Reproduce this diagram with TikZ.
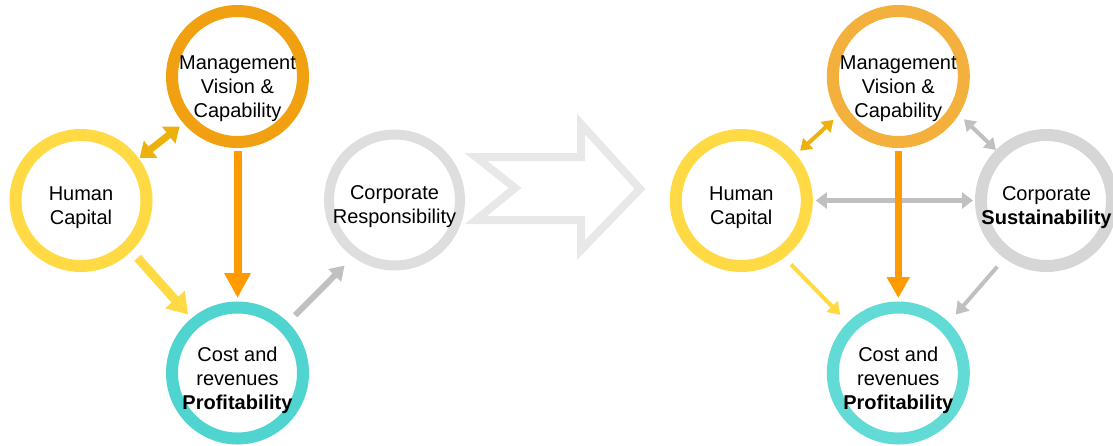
\documentclass[tikz,border=0pt]{standalone}
\usepackage{fontspec}
\setmainfont{Liberation Sans}
\usetikzlibrary{arrows.meta}
\definecolor{mgmtL}{HTML}{F0A010}
\definecolor{mgmtR}{HTML}{F4B03C}
\definecolor{human}{HTML}{FFDA44}
\definecolor{costL}{HTML}{4FD4CF}
\definecolor{costR}{HTML}{62DAD6}
\definecolor{corpL}{HTML}{DEDEDE}
\definecolor{corpR}{HTML}{D6D6D6}
\definecolor{orangeArr}{HTML}{FF9A00}
\definecolor{goldArr}{HTML}{EDB10E}
\definecolor{grayArr}{HTML}{C0C0C0}
\definecolor{shiftGray}{HTML}{E8E8E8}
\tikzset{ring/.style={draw, circle, minimum size=131pt, inner sep=0pt, line width=12pt}}
\tikzset{tag/.style={align=center, font=\fontsize{20}{24}\selectfont}}
\tikzset{link/.style={draw, line cap=butt}}

\begin{document}
\begin{tikzpicture}[x=1pt,y=-1pt]
\useasboundingbox (0,0) rectangle (1113,445);

%before
\node[ring, draw=mgmtL, label={[tag,yshift=-12pt]center:{Management\\Vision \&\\Capability}}] (mgmtL) at (237.5,76.5) {};
\node[ring, draw=human, label={[tag,yshift=-7pt]center:{Human\\Capital}}] (hcL) at (81,200.5) {};
\node[ring, draw=corpL, line width=10pt, label={[tag,yshift=-7pt]center:{Corporate\\Responsibility}}] (corpL) at (394.5,200) {};
\node[ring, draw=costL, label={[tag,yshift=-7pt]center:{Cost and\\revenues\\\textbf{Profitability}}}] (costL) at (237.5,373) {};

\path[link, draw=goldArr, line width=7pt, {Triangle[length=14pt,width=21pt]}-{Triangle[length=14pt,width=21pt]}, shorten <=1pt, shorten >=5pt] (hcL.36) -- (mgmtL.221);
\path[link, draw=human, line width=9pt, -{Triangle[length=20pt,width=25pt]}, shorten <=9pt, shorten >=5pt] (hcL.315) -- (costL.130);
\path[link, draw=orangeArr, line width=8pt, -{Triangle[length=25pt,width=25pt]}, shorten <=3pt, shorten >=3.5pt] (mgmtL.south) -- (costL.north);
\path[link, draw=grayArr, line width=6pt, -{Triangle[length=14pt,width=17pt]}, shorten <=10pt, shorten >=12pt] (costL.45) -- (corpL.234);

%shift
\draw[shiftGray, line width=8pt, line join=miter] (476,157) -- (515,188) -- (476,220) -- (581,220) -- (581,250) -- (640,189) -- (581,124) -- (581,157) -- cycle;

%after
\node[ring, draw=mgmtR, label={[tag,yshift=-12pt]center:{Management\\Vision \&\\Capability}}] (mgmtR) at (898.3,76.5) {};
\node[ring, draw=human, label={[tag,yshift=-7pt]center:{Human\\Capital}}] (hcR) at (741.3,200.5) {};
\node[ring, draw=corpR, label={[tag,yshift=-7pt]center:{Corporate\\\textbf{Sustainability}}}] (corpR) at (1046.5,200.5) {};
\node[ring, draw=costR, label={[tag,yshift=-7pt]center:{Cost and\\revenues\\\textbf{Profitability}}}] (costR) at (898.3,373) {};

\path[link, draw=goldArr, line width=4pt, {Triangle[length=11pt,width=14pt]}-{Triangle[length=11pt,width=14pt]}, shorten <=5.5pt, shorten >=6.5pt] (hcR.40) -- (mgmtR.213);
\path[link, draw=grayArr, line width=4pt, {Triangle[length=11pt,width=14pt]}-{Triangle[length=11pt,width=14pt]}, shorten <=7pt] (mgmtR.328) -- (corpR.135);
\path[link, draw=grayArr, line width=5pt, {Triangle[length=11pt,width=16pt]}-{Triangle[length=11pt,width=16pt]}, shorten <=3pt, shorten >=2pt] (hcR.east) -- (corpR.west);
\path[link, draw=human, line width=4pt, -{Triangle[length=12pt,width=15pt]}, shorten <=9.5pt, shorten >=10.5pt] (hcR.307) -- (costR.135);
\path[link, draw=grayArr, line width=4pt, -{Triangle[length=12pt,width=15pt]}, shorten <=11pt, shorten >=10.5pt] (corpR.234) -- (costR.45);
\path[link, draw=orangeArr, line width=7pt, -{Triangle[length=21pt,width=22pt]}, shorten <=3pt, shorten >=3.5pt] (mgmtR.south) -- (costR.north);

\end{tikzpicture}
\end{document}
